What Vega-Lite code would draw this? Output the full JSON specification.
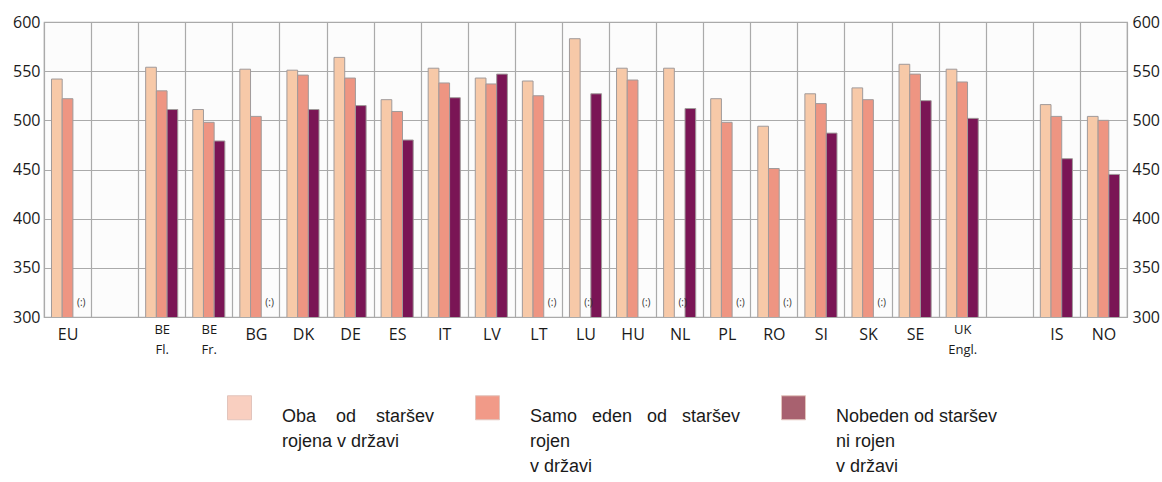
{
  "$schema": "https://vega.github.io/schema/vega-lite/v6.json",
  "width": 1083,
  "height": 295,
  "autosize": {"type": "none"},
  "padding": {"left": 44, "top": 22, "right": 35, "bottom": 165},
  "background": "#ffffff",
  "config": {
    "view": {"stroke": "#aaaaaa", "strokeWidth": 1.2, "fill": "#fcfcfc"},
    "font": "Open Sans",
    "axis": {"labelFont": "Open Sans", "labelColor": "#1a1a1a", "ticks": false, "domain": false, "title": null},
    "style": {"guide-label": {"lineHeight": 25}}
  },
  "data": {
    "values": [
      {"country": "EU", "series": "Oba od staršev rojena v državi", "value": 542},
      {"country": "EU", "series": "Samo eden od staršev rojen v državi", "value": 522},
      {"country": "EU", "series": "Nobeden od staršev ni rojen v državi", "value": null},
      {"country": "BE Fl.", "series": "Oba od staršev rojena v državi", "value": 554},
      {"country": "BE Fl.", "series": "Samo eden od staršev rojen v državi", "value": 530},
      {"country": "BE Fl.", "series": "Nobeden od staršev ni rojen v državi", "value": 511},
      {"country": "BE Fr.", "series": "Oba od staršev rojena v državi", "value": 511},
      {"country": "BE Fr.", "series": "Samo eden od staršev rojen v državi", "value": 498},
      {"country": "BE Fr.", "series": "Nobeden od staršev ni rojen v državi", "value": 479},
      {"country": "BG", "series": "Oba od staršev rojena v državi", "value": 552},
      {"country": "BG", "series": "Samo eden od staršev rojen v državi", "value": 504},
      {"country": "BG", "series": "Nobeden od staršev ni rojen v državi", "value": null},
      {"country": "DK", "series": "Oba od staršev rojena v državi", "value": 551},
      {"country": "DK", "series": "Samo eden od staršev rojen v državi", "value": 546},
      {"country": "DK", "series": "Nobeden od staršev ni rojen v državi", "value": 511},
      {"country": "DE", "series": "Oba od staršev rojena v državi", "value": 564},
      {"country": "DE", "series": "Samo eden od staršev rojen v državi", "value": 543},
      {"country": "DE", "series": "Nobeden od staršev ni rojen v državi", "value": 515},
      {"country": "ES", "series": "Oba od staršev rojena v državi", "value": 521},
      {"country": "ES", "series": "Samo eden od staršev rojen v državi", "value": 509},
      {"country": "ES", "series": "Nobeden od staršev ni rojen v državi", "value": 480},
      {"country": "IT", "series": "Oba od staršev rojena v državi", "value": 553},
      {"country": "IT", "series": "Samo eden od staršev rojen v državi", "value": 538},
      {"country": "IT", "series": "Nobeden od staršev ni rojen v državi", "value": 523},
      {"country": "LV", "series": "Oba od staršev rojena v državi", "value": 543},
      {"country": "LV", "series": "Samo eden od staršev rojen v državi", "value": 537},
      {"country": "LV", "series": "Nobeden od staršev ni rojen v državi", "value": 547},
      {"country": "LT", "series": "Oba od staršev rojena v državi", "value": 540},
      {"country": "LT", "series": "Samo eden od staršev rojen v državi", "value": 525},
      {"country": "LT", "series": "Nobeden od staršev ni rojen v državi", "value": null},
      {"country": "LU", "series": "Oba od staršev rojena v državi", "value": 583},
      {"country": "LU", "series": "Samo eden od staršev rojen v državi", "value": null},
      {"country": "LU", "series": "Nobeden od staršev ni rojen v državi", "value": 527},
      {"country": "HU", "series": "Oba od staršev rojena v državi", "value": 553},
      {"country": "HU", "series": "Samo eden od staršev rojen v državi", "value": 541},
      {"country": "HU", "series": "Nobeden od staršev ni rojen v državi", "value": null},
      {"country": "NL", "series": "Oba od staršev rojena v državi", "value": 553},
      {"country": "NL", "series": "Samo eden od staršev rojen v državi", "value": null},
      {"country": "NL", "series": "Nobeden od staršev ni rojen v državi", "value": 512},
      {"country": "PL", "series": "Oba od staršev rojena v državi", "value": 522},
      {"country": "PL", "series": "Samo eden od staršev rojen v državi", "value": 498},
      {"country": "PL", "series": "Nobeden od staršev ni rojen v državi", "value": null},
      {"country": "RO", "series": "Oba od staršev rojena v državi", "value": 494},
      {"country": "RO", "series": "Samo eden od staršev rojen v državi", "value": 451},
      {"country": "RO", "series": "Nobeden od staršev ni rojen v državi", "value": null},
      {"country": "SI", "series": "Oba od staršev rojena v državi", "value": 527},
      {"country": "SI", "series": "Samo eden od staršev rojen v državi", "value": 517},
      {"country": "SI", "series": "Nobeden od staršev ni rojen v državi", "value": 487},
      {"country": "SK", "series": "Oba od staršev rojena v državi", "value": 533},
      {"country": "SK", "series": "Samo eden od staršev rojen v državi", "value": 521},
      {"country": "SK", "series": "Nobeden od staršev ni rojen v državi", "value": null},
      {"country": "SE", "series": "Oba od staršev rojena v državi", "value": 557},
      {"country": "SE", "series": "Samo eden od staršev rojen v državi", "value": 547},
      {"country": "SE", "series": "Nobeden od staršev ni rojen v državi", "value": 520},
      {"country": "UK Engl.", "series": "Oba od staršev rojena v državi", "value": 552},
      {"country": "UK Engl.", "series": "Samo eden od staršev rojen v državi", "value": 539},
      {"country": "UK Engl.", "series": "Nobeden od staršev ni rojen v državi", "value": 502},
      {"country": "IS", "series": "Oba od staršev rojena v državi", "value": 516},
      {"country": "IS", "series": "Samo eden od staršev rojen v državi", "value": 504},
      {"country": "IS", "series": "Nobeden od staršev ni rojen v državi", "value": 461},
      {"country": "NO", "series": "Oba od staršev rojena v državi", "value": 504},
      {"country": "NO", "series": "Samo eden od staršev rojen v državi", "value": 500},
      {"country": "NO", "series": "Nobeden od staršev ni rojen v državi", "value": 445}
    ]
  },
  "encoding": {
    "x": {
      "field": "country",
      "type": "nominal",
      "scale": {
        "domain": ["EU", "gap1", "BE Fl.", "BE Fr.", "BG", "DK", "DE", "ES", "IT", "LV", "LT", "LU", "HU", "NL", "PL", "RO", "SI", "SK", "SE", "UK Engl.", "gap2", "IS", "NO"],
        "paddingInner": 0,
        "paddingOuter": 0
      },
      "axis": {
        "labelAngle": 0,
        "grid": true,
        "gridColor": "#aaaaaa",
        "gridWidth": 1.2,
        "tickBand": "extent",
        "labelExpr": "indexof(datum.label, 'gap') == 0 ? '' : split(datum.label, ' ')",
        "labelFontSize": {"condition": {"test": "indexof(datum.label, ' ') > 0", "value": 13}, "value": 16},
        "labelPadding": {"condition": {"test": "indexof(datum.label, ' ') > 0", "value": 6}, "value": 9},
        "labelLineHeight": 20,
        "labelBaseline": "top"
      }
    },
    "xOffset": {
      "field": "series",
      "type": "nominal",
      "scale": {
        "domain": ["Oba od staršev rojena v državi", "Samo eden od staršev rojen v državi", "Nobeden od staršev ni rojen v državi"],
        "paddingInner": 0,
        "paddingOuter": 0.7
      }
    }
  },
  "layer": [
    {
      "transform": [{"filter": "datum.value != null"}],
      "mark": {"type": "bar", "stroke": "#a09a9a", "strokeWidth": 1, "clip": true},
      "encoding": {
        "y": {
          "field": "value",
          "type": "quantitative",
          "scale": {"domain": [300, 600], "nice": false, "zero": false},
          "axis": {
            "orient": "left",
            "values": [300, 350, 400, 450, 500, 550, 600],
            "grid": true,
            "gridColor": "#aaaaaa",
            "gridWidth": 1.2,
            "labelFontSize": 16,
            "labelPadding": 4
          }
        },
        "color": {
          "field": "series",
          "type": "nominal",
          "scale": {
            "domain": ["Oba od staršev rojena v državi", "Samo eden od staršev rojen v državi", "Nobeden od staršev ni rojen v državi"],
            "range": ["#f7c9a8", "#ee9582", "#7a1555"]
          },
          "legend": null
        }
      }
    },
    {
      "transform": [{"filter": "datum.value == null"}],
      "mark": {"type": "text", "text": "(:)", "fontSize": 10, "dx": 3, "dy": -14, "baseline": "middle", "color": "#333333"},
      "encoding": {
        "y": {
          "datum": 300,
          "type": "quantitative",
          "axis": {
            "orient": "right",
            "values": [300, 350, 400, 450, 500, 550, 600],
            "grid": false,
            "labelFontSize": 16,
            "labelPadding": 5
          }
        }
      }
    },
    {
      "transform": [{"filter": "datum.value != null"}],
      "mark": {"type": "square", "size": 0, "strokeWidth": 0},
      "encoding": {
        "y": {"field": "value", "type": "quantitative", "axis": null},
        "fill": {
          "field": "series",
          "type": "nominal",
          "scale": {
            "domain": ["Oba od staršev rojena v državi", "Samo eden od staršev rojen v državi", "Nobeden od staršev ni rojen v državi", "-"],
            "range": ["#f9cfc0", "#f19a88", "#a8616f", "#ffffff"]
          },
          "legend": {
            "values": ["Oba od staršev rojena v državi", "Samo eden od staršev rojen v državi", "Nobeden od staršev ni rojen v državi"],
            "title": null,
            "orient": "none",
            "legendX": 183,
            "legendY": 373,
            "direction": "horizontal",
            "columns": 3,
            "columnPadding": 38,
            "symbolType": "square",
            "symbolSize": 576,
            "symbolOpacity": 1,
            "symbolStrokeColor": "#e2c4bc",
            "symbolStrokeWidth": 1,
            "labelFont": "Liberation Sans",
            "labelFontSize": 18,
            "labelColor": "#1a1a1a",
            "labelOffset": 30,
            "labelLimit": 0,
            "labelBaseline": "top",
            "labelExpr": "indexof(datum.label, 'Oba') == 0 ? ['Oba\u00a0\u00a0\u00a0\u00a0od\u00a0\u00a0\u00a0\u00a0staršev', 'rojena v državi', '\u00a0', '\u00a0'] : indexof(datum.label, 'Samo') == 0 ? ['Samo\u00a0\u00a0\u00a0eden\u00a0\u00a0\u00a0od\u00a0\u00a0\u00a0staršev', 'rojen', '\u00a0', 'v državi'] : ['Nobeden od staršev', 'ni rojen', '\u00a0', 'v državi']"
          }
        }
      }
    }
  ],
  "resolve": {"axis": {"y": "independent"}}
}
